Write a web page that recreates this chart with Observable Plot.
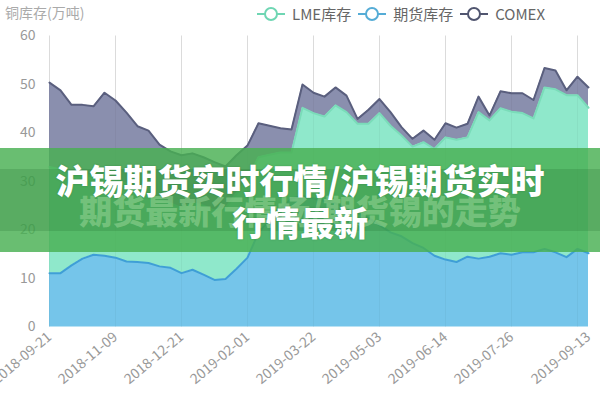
<!DOCTYPE html>
<html>
<head>
<meta charset="utf-8">
<script src="https://cdn.jsdelivr.net/npm/d3@7"></script>
<script src="https://cdn.jsdelivr.net/npm/@observablehq/plot@0.6"></script>
<style>
  html, body { margin: 0; padding: 0; background: #fff; }
  #wrap { position: relative; width: 600px; height: 400px; overflow: hidden; font-family: "Noto Sans CJK SC", "Noto Sans", sans-serif; }
  #chart svg { display: block; }
  .ytitle { position: absolute; left: 5px; top: 2px; font-size: 14px; color: #aaa; }
  .legend { position: absolute; top: 3px; left: 257px; display: flex; align-items: center; font-size: 15px; color: #666; white-space: nowrap; }
  .legend .item { display: flex; align-items: center; margin-right: 7px; }
  .legend svg { margin-right: 7px; }
  .banner { position: absolute; left: 0; top: 148px; width: 600px; height: 104px; background: rgba(72,176,82,0.82); }
  .band { position: absolute; left: 0; top: 21px; width: 600px; height: 62px; background: rgba(30,110,45,0.22); }
  .ghost { position: absolute; left: 0; width: 600px; top: 38px; text-align: center; font-size: 33px; font-weight: 900; color: rgba(170,225,165,0.45); }
  .title { position: absolute; left: 0; width: 600px; top: 11px; text-align: center; font-size: 34px; line-height: 42px; font-weight: 900; color: #fff; text-shadow: 0 0 2px rgba(0,60,20,0.25); }
</style>
</head>
<body>
<div id="wrap">
  <div id="chart"></div>
  <div class="ytitle">铜库存(万吨)</div>
  <div class="legend" id="legend"></div>
  <div class="banner">
    <div class="band"></div>
    <div class="ghost">期货最新行情场/期货锡的走势</div>
    <div class="title">沪锡期货实时行情/沪锡期货实时<br>行情最新</div>
  </div>
</div>
<script>
// ---- data ----
const dates = [
  "2018-09-21","2018-09-28","2018-10-12","2018-10-19","2018-10-26","2018-11-02","2018-11-09",
  "2018-11-16","2018-11-23","2018-11-30","2018-12-07","2018-12-14","2018-12-21",
  "2018-12-28","2019-01-04","2019-01-11","2019-01-18","2019-01-25","2019-02-01",
  "2019-02-15","2019-02-22","2019-03-01","2019-03-08","2019-03-15","2019-03-22",
  "2019-03-29","2019-04-04","2019-04-12","2019-04-19","2019-04-26","2019-05-03",
  "2019-05-10","2019-05-17","2019-05-24","2019-05-31","2019-06-06","2019-06-14",
  "2019-06-21","2019-06-28","2019-07-05","2019-07-12","2019-07-19","2019-07-26",
  "2019-08-02","2019-08-09","2019-08-16","2019-08-23","2019-08-30","2019-09-06","2019-09-13"
];
// 期货库存 (bottom)
const futures = [
  11.1,11.1,12.7,14.1,14.9,14.7,14.3,13.5,13.4,13.2,12.5,12.2,11.1,11.8,10.8,9.7,9.9,12.0,14.3,
  19.5,22.0,24.5,26.5,27.0,26.5,26.0,25.5,24.5,23.5,22.5,21.0,19.5,18.7,17.3,16.3,14.7,13.9,
  13.4,14.5,14.1,14.5,15.2,14.9,15.4,15.4,16.1,15.4,14.4,16.1,15.2
];
// LME库存 (middle)
const lme = [
  21.9,21.4,18.3,17.4,16.1,16.8,16.2,16.0,14.6,14.3,14.0,13.3,13.4,13.7,14.2,14.3,14.6,15.5,16.2,
  15.5,13.5,11.5,9.5,18.2,17.6,17.4,20.2,19.8,18.4,19.4,23.1,22.0,20.8,19.9,21.8,22.0,25.2,
  25.2,24.6,30.2,28.1,29.9,29.5,28.7,27.6,33.3,33.6,33.4,31.7,30.0
];
// COMEX (top)
const comex = [
  17.4,16.3,14.8,14.3,14.5,16.8,16.2,14.7,13.4,13.0,11.1,10.7,10.9,10.3,10.0,10.0,8.6,7.9,6.9,
  7.0,6.0,5.0,4.7,4.8,4.2,4.1,3.7,3.4,1.0,2.9,2.9,2.8,1.7,1.6,2.4,1.9,2.9,
  2.5,2.8,3.2,1.0,3.5,3.8,4.1,3.8,4.0,3.9,1.0,3.8,4.2
];
const seriesNames = ["期货库存", "LME库存", "COMEX"];
const legendOrder = ["LME库存", "期货库存", "COMEX"];
const xTickLabels = ["2018-09-21","2018-11-09","2018-12-21","2019-02-01","2019-03-22","2019-05-03","2019-06-14","2019-07-26","2019-09-13"];
const yTicks = [0, 10, 20, 30, 40, 50, 60];

const fillColor = { "期货库存": "#75c5ea", "LME库存": "#8fe8cb", "COMEX": "#8a8fae" };
const lineColor = { "期货库存": "#3f9fd6", "LME库存": "#7adcb9", "COMEX": "#5a5f7e" };
const legendColor = { "LME库存": "#6fd6b3", "期货库存": "#55acd6", "COMEX": "#50556f" };

const values = [futures, lme, comex];
const rows = [];
seriesNames.forEach((s, k) => dates.forEach((d, i) => rows.push({ date: d, series: s, value: values[k][i] })));
const gridDates = dates.filter((d, i) => i % 6 === 0);

const chart = Plot.plot({
  width: 600,
  height: 400,
  marginLeft: 45,
  marginRight: 9,
  marginTop: 35.5,
  marginBottom: 73.5,
  style: { fontFamily: '"Noto Sans CJK SC", "Noto Sans", sans-serif', color: "#999", background: "transparent" },
  x: { type: "point", domain: dates, padding: 0, axis: null },
  y: { domain: [0, 60], axis: null },
  color: { type: "identity" },
  marks: [
    Plot.gridX(gridDates, { stroke: "#e3e3e3", strokeOpacity: 1 }),
    Plot.areaY(rows, { x: "date", y: "value", z: "series", fill: d => fillColor[d.series], fillOpacity: 1, order: null }),
    Plot.gridX(gridDates, { stroke: "#000", strokeOpacity: 0.035 }),
    Plot.lineY(rows, Plot.stackY2({ x: "date", y: "value", z: "series", stroke: d => lineColor[d.series], strokeWidth: 2, order: null })),
    Plot.axisY(yTicks, { tickSize: 0, tickPadding: 10, fontSize: 14, fill: "#999", label: null }),
    Plot.axisX(xTickLabels, { tickSize: 0, tickPadding: 8, tickRotate: -40, fontSize: 14, fill: "#999", label: null })
  ]
});
document.getElementById("chart").appendChild(chart);

// legend
const lg = document.getElementById("legend");
legendOrder.forEach(name => {
  const c = legendColor[name];
  const item = document.createElement("div");
  item.className = "item";
  item.innerHTML = `<svg width="28" height="16"><line x1="0" y1="8" x2="28" y2="8" stroke="${c}" stroke-width="2"/><circle cx="14" cy="8" r="6" fill="#fff" stroke="${c}" stroke-width="2"/></svg><span>${name}</span>`;
  lg.appendChild(item);
});
</script>
</body>
</html>
